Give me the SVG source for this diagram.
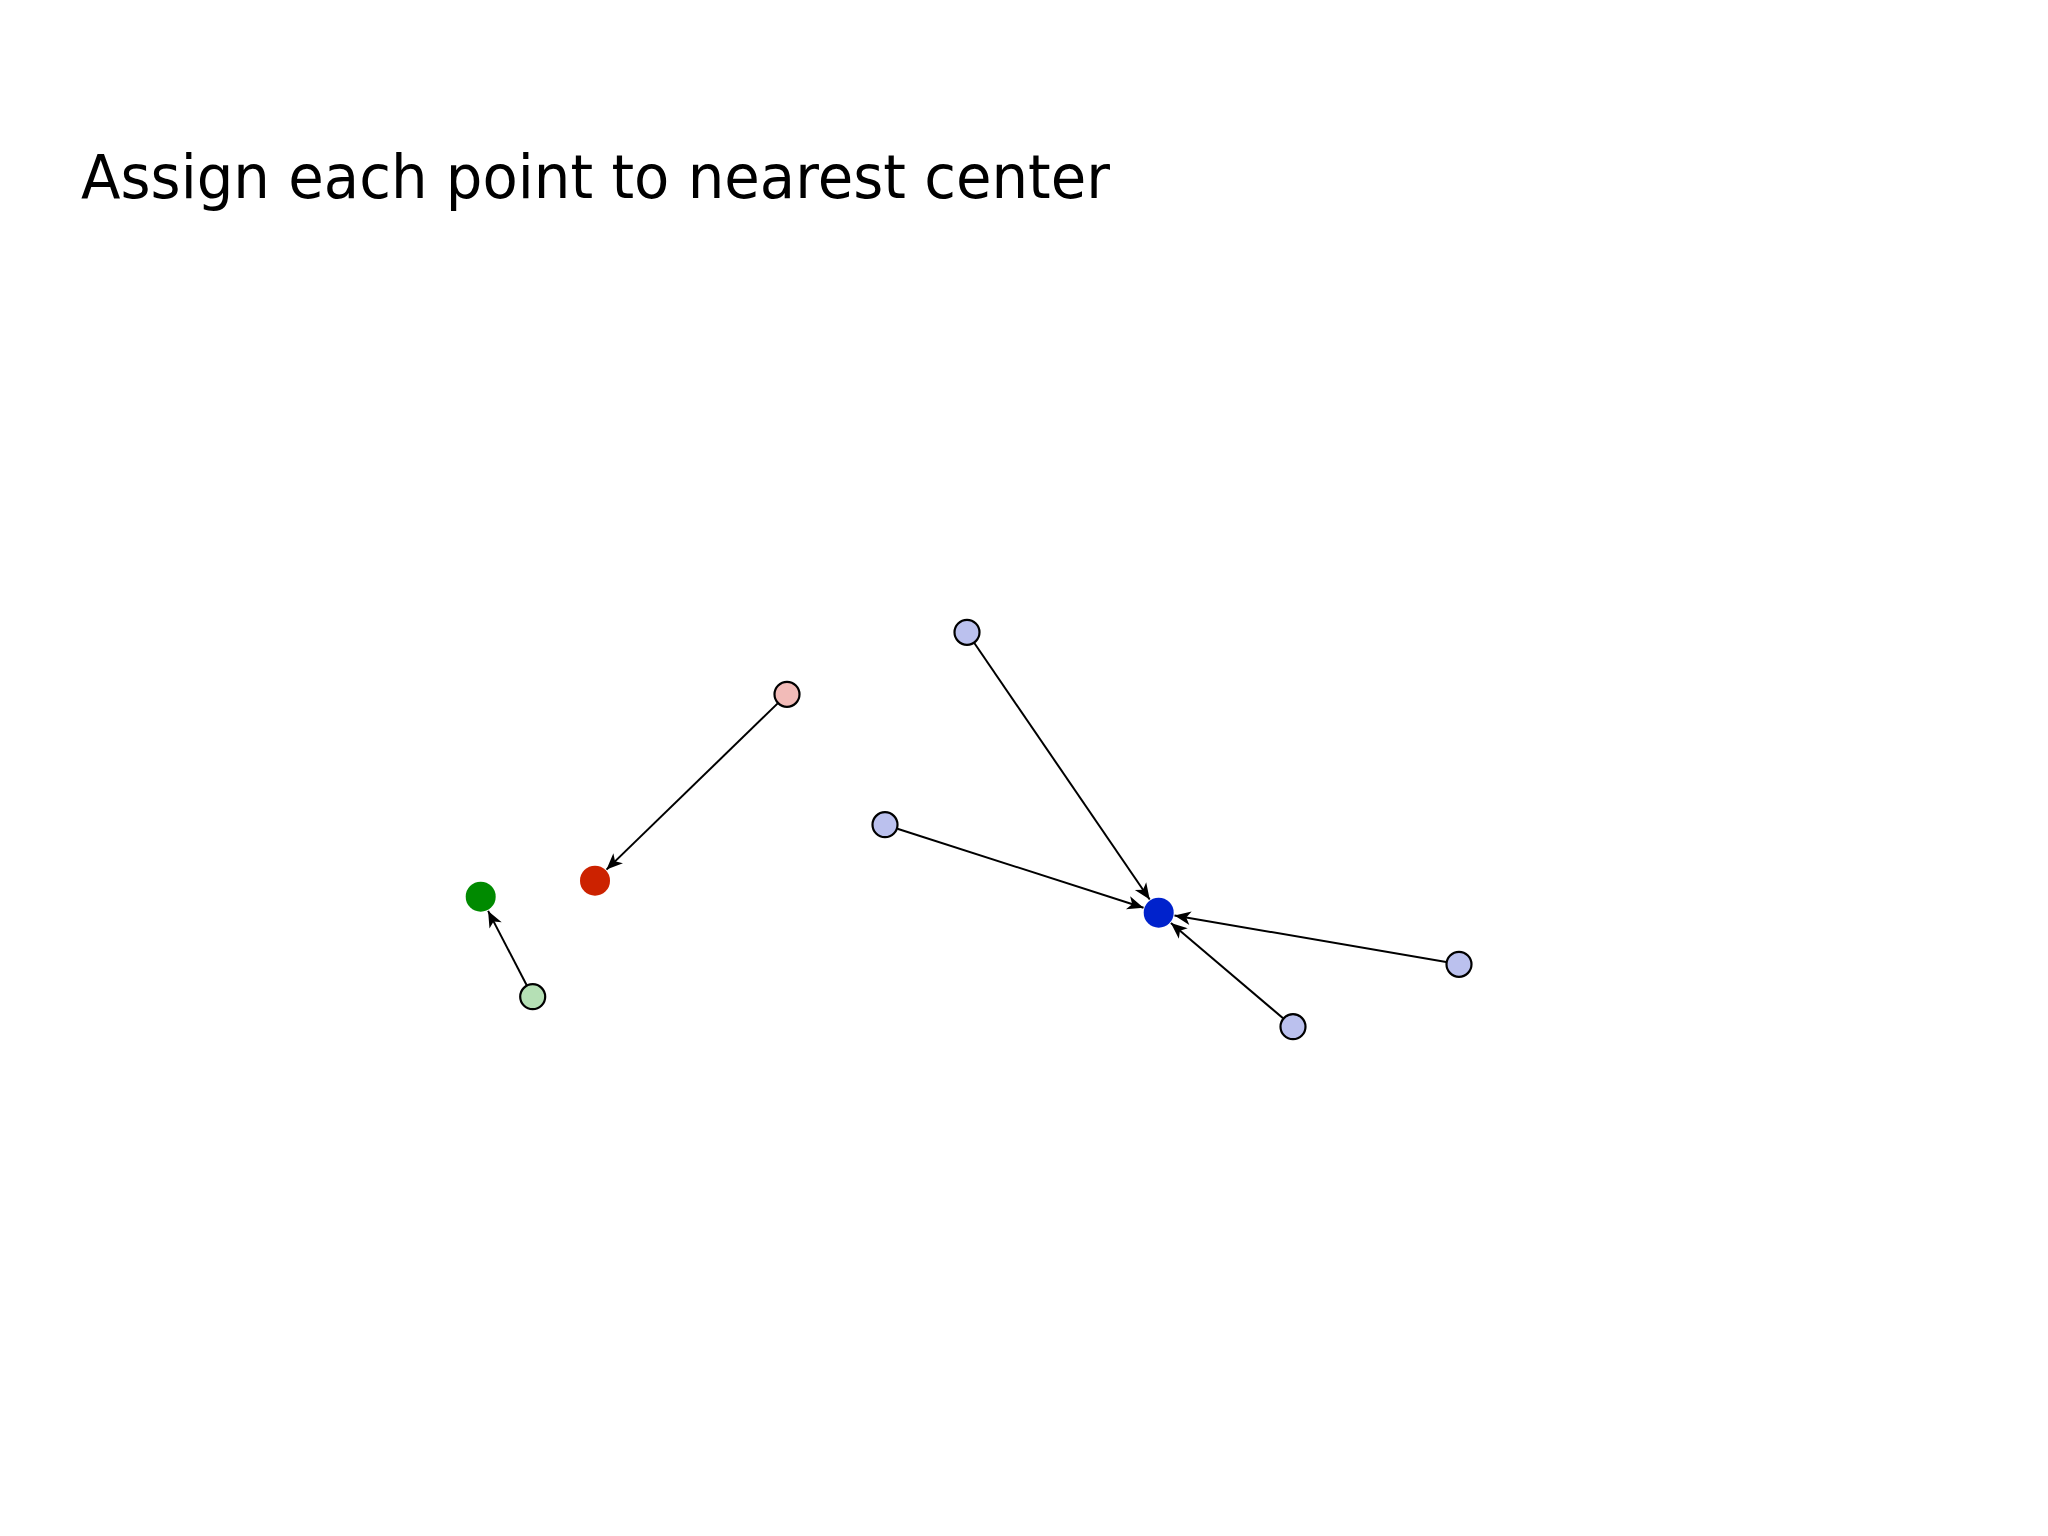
<svg xmlns="http://www.w3.org/2000/svg" width="2048" height="1536" viewBox="0 0 2048 1536">
<style>
.title{font-family:"DejaVu Sans","Liberation Sans",sans-serif;font-size:60px;fill:#000}
.pt{stroke:#000;stroke-width:2.2}
.edge{stroke:#000;stroke-width:2;fill:none;marker-end:url(#arr)}
</style>
<defs>
<marker id="arr" markerUnits="userSpaceOnUse" markerWidth="20" markerHeight="20" viewBox="-14 -7 16 14" refX="0" refY="0" orient="auto">
<path d="M0,0 L-13,-5.5 L-9.5,0 L-13,5.5 Z" fill="#000"/>
</marker>
</defs>
<rect width="2048" height="1536" fill="#fff"/>
<text class="title" x="81" y="198" textLength="1029" lengthAdjust="spacingAndGlyphs">Assign each point to nearest center</text>
<g id="connectors">
<line class="edge" x1="526.7" y1="985.2" x2="488.1" y2="910.9"/>
<line class="edge" x1="777.7" y1="703.4" x2="606.5" y2="869.6"/>
<line class="edge" x1="974.3" y1="643.0" x2="1149.7" y2="899.5"/>
<line class="edge" x1="897.4" y1="828.7" x2="1143.5" y2="907.8"/>
<line class="edge" x1="1446.2" y1="962.1" x2="1174.5" y2="915.4"/>
<line class="edge" x1="1283.1" y1="1018.3" x2="1170.9" y2="923.1"/>
</g>
<g id="center-green"><circle cx="480.7" cy="896.7" r="15" fill="#008A00"/></g>
<g id="center-red"><circle cx="595" cy="880.7" r="15" fill="#CC2200"/></g>
<g id="center-blue"><circle cx="1158.7" cy="912.7" r="15" fill="#0022CC"/></g>
<g id="point-green"><circle class="pt" cx="532.7" cy="996.7" r="12.5" fill="#B5E0B5"/></g>
<g id="point-red"><circle class="pt" cx="787" cy="694.3" r="12.5" fill="#F2BBB8"/></g>
<g id="point-blue-1"><circle class="pt" cx="967" cy="632.3" r="12.5" fill="#BBC1EE"/></g>
<g id="point-blue-2"><circle class="pt" cx="885" cy="824.7" r="12.5" fill="#BBC1EE"/></g>
<g id="point-blue-3"><circle class="pt" cx="1459" cy="964.3" r="12.5" fill="#BBC1EE"/></g>
<g id="point-blue-4"><circle class="pt" cx="1293" cy="1026.7" r="12.5" fill="#BBC1EE"/></g>
</svg>
